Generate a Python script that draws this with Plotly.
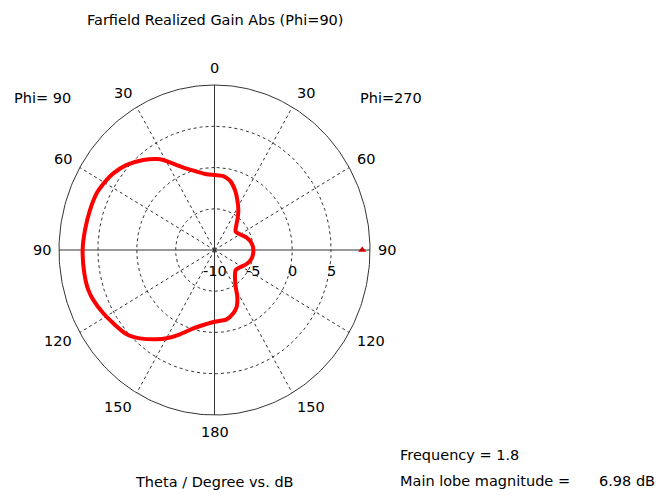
import numpy as np
import plotly.graph_objects as go

# Farfield cut, Phi=90 plane. Angles run counter-clockwise from the top:
# 0..180 is the Phi=90 half (left), 180..360 is the Phi=270 half (right).
theta_deg = [0, 6.3, 13.6, 20, 25.3, 31.1, 34, 40, 47.6, 54.5, 58.5, 65.6, 73.2, 81.7, 90,
             99.6, 106.6, 111.3, 118.2, 124.3, 132.1, 138.2, 145.5, 150.1, 156.5, 164, 171, 180,
             190.5, 197.5, 202.6, 207.4, 211.5, 219.2, 228.3, 237.4, 247.7, 258.1,
             270, 279.6, 289.9, 300.1, 309.2, 315.6, 322.2, 327.7, 334.1, 340.1,
             346.7, 352.8, 360]
gain_db = [-0.91, -0.77, -0.23, 0.49, 1.39, 2.74, 3.30, 4.24, 5.29, 5.99, 6.26, 6.64, 6.73, 6.83, 6.96,
           6.98, 6.94, 6.72, 6.23, 5.76, 5.23, 4.37, 3.14, 2.35, 1.14, -0.12, -0.80, -1.31,
           -1.45, -1.95, -2.56, -3.63, -4.79, -5.83, -6.35, -6.11, -5.53, -5.11,
           -5.0, -5.15, -5.6, -6.21, -6.49, -6.04, -5.14, -4.26, -3.27, -2.26,
           -1.36, -0.96, -0.91]

angle_ticks = [0, 30, 60, 90, 120, 150, 180, 210, 240, 270, 300, 330]
angle_labels = ["0", "30", "60", "90", "120", "150", "180", "150", "120", "90", "60", "30"]
radial_ticks = [-10, -5, 0, 5]
radial_min, radial_max = -10, 10

marker_theta = 270
marker_db = 9.0

title_text = "Farfield Realized Gain Abs (Phi=90)"
frequency_text = "Frequency = 1.8"
lobe_label = "Main lobe magnitude ="
lobe_value = "6.98 dB"
axis_caption = "Theta / Degree vs. dB"

FONT = "DejaVu Sans"
FS = 14.5
W, H = 661, 497
# unit-circle frame in pixels: the diagram is slightly taller than wide
CX, CY = 214.5, 250.0
RX, RY = 155.5, 165.0
PAD = 1.3  # axis range beyond the rim, leaves room for the rim labels
GRID = "#333333"


def to_xy(theta, db):
    """Polar (theta from top, counter-clockwise; dB) -> normalised cartesian."""
    t = np.radians(np.asarray(theta, dtype=float))
    rho = (np.asarray(db, dtype=float) - radial_min) / (radial_max - radial_min)
    return -rho * np.sin(t), rho * np.cos(t)


fig = go.Figure()

# dashed range rings and the solid outer ring
ring_t = np.arange(0, 361, 1)
for v in radial_ticks[1:] + [radial_max]:
    x, y = to_xy(ring_t, np.full(ring_t.shape, v))
    solid = v == radial_max
    fig.add_trace(go.Scatter(x=x, y=y, mode="lines", hoverinfo="skip", showlegend=False,
                             line=dict(color=GRID, width=1, dash="solid" if solid else "3px,3px")))

# dashed spokes every 30 degrees
for a in angle_ticks:
    if a % 90 == 0:
        continue
    x, y = to_xy([a, a], [radial_min, radial_max])
    fig.add_trace(go.Scatter(x=x, y=y, mode="lines", hoverinfo="skip", showlegend=False,
                             line=dict(color=GRID, width=1, dash="3px,3px")))

# solid cross-hair axes
for a in (0, 90):
    x, y = to_xy([a, a + 180], [radial_max, radial_max])
    fig.add_trace(go.Scatter(x=x, y=y, mode="lines", hoverinfo="skip", showlegend=False,
                             line=dict(color=GRID, width=1)))

# gain pattern
x, y = to_xy(theta_deg, gain_db)
fig.add_trace(go.Scatter(x=x, y=y, mode="lines", showlegend=False,
                         line=dict(color="#ff0000", width=4, shape="spline", smoothing=0.8)))

# main-lobe marker
x, y = to_xy([marker_theta], [marker_db])
fig.add_trace(go.Scatter(x=x, y=y, mode="markers", showlegend=False,
                         marker=dict(symbol="triangle-up", size=7, color="#cc0000")))

fig.update_layout(
    width=W, height=H,
    margin=dict(l=0, r=0, t=0, b=0),
    paper_bgcolor="white", plot_bgcolor="white",
    font=dict(family=FONT, size=FS, color="#000000"),
    xaxis=dict(domain=[(CX - PAD * RX) / W, (CX + PAD * RX) / W], range=[-PAD, PAD],
               visible=False, fixedrange=True),
    yaxis=dict(domain=[1 - (CY + PAD * RY) / H, 1 - (CY - PAD * RY) / H], range=[-PAD, PAD],
               visible=False, fixedrange=True),
)

# angular tick labels outside the rim: text edge near the rim horizontally,
# a little further out vertically
span = radial_max - radial_min
for a, lab in zip(angle_ticks, angle_labels):
    lx, _ = to_xy([a], [radial_min + 1.04 * span])
    _, ly = to_xy([a], [radial_min + 1.10 * span])
    if a % 180 == 0:
        anchor = "center"
    elif a < 180:
        anchor = "right"
    else:
        anchor = "left"
    fig.add_annotation(text=lab, x=lx[0], y=ly[0], xref="x", yref="y",
                       xanchor=anchor, yanchor="middle", showarrow=False,
                       font=dict(family=FONT, size=FS))

# radial tick labels under the horizontal axis (right side)
for v in radial_ticks:
    lx, ly = to_xy([270], [v])
    fig.add_annotation(text=str(v), x=lx[0], y=ly[0], xref="x", yref="y",
                       xanchor="center", yanchor="middle", yshift=-21, showarrow=False,
                       font=dict(family=FONT, size=FS))


def px_note(text, x, y, xanchor="center"):
    fig.add_annotation(text=text, x=x / W, y=1 - y / H, xref="paper", yref="paper",
                       xanchor=xanchor, yanchor="middle", showarrow=False,
                       font=dict(family=FONT, size=FS, color="#000000"))


px_note(title_text, 216, 20)
px_note("Phi= 90", 12, 98, xanchor="left")
px_note("Phi=270", 358, 98, xanchor="left")
px_note(axis_caption, 214, 482)
px_note(frequency_text, 398, 455, xanchor="left")
px_note(lobe_label, 398, 481, xanchor="left")
px_note(lobe_value, 657, 481, xanchor="right")

fig.write_html("out.html")
